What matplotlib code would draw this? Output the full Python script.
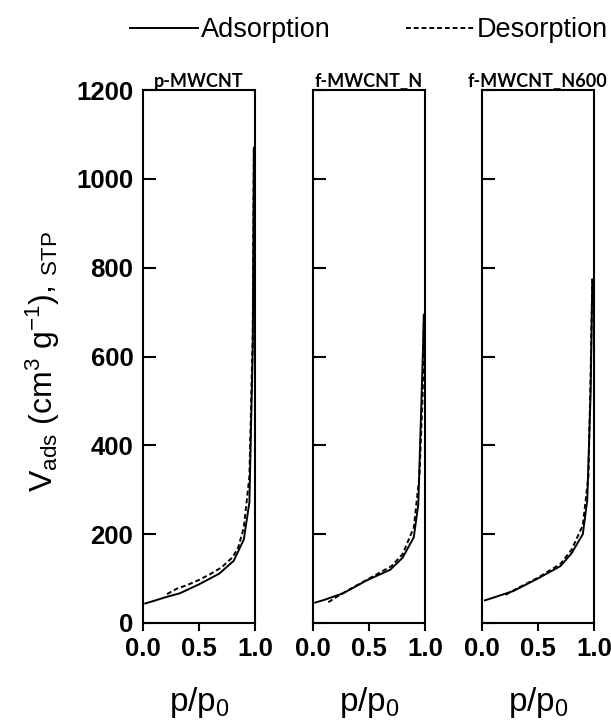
import numpy as np
import matplotlib
matplotlib.use('Agg')
import matplotlib.pyplot as plt
from matplotlib.lines import Line2D

plt.rcParams['font.family'] = ['Liberation Sans', 'DejaVu Sans']
plt.rcParams['mathtext.fontset'] = 'custom'
plt.rcParams['mathtext.rm'] = 'Liberation Sans'
plt.rcParams['mathtext.it'] = 'Liberation Sans'

# 样品名称
samples = ['p-MWCNT', 'f-MWCNT_N', 'f-MWCNT_N600']

# 吸附支 (p/p0, V)
ads_x = [
    [0.02, 0.1, 0.2, 0.33, 0.5, 0.68, 0.81, 0.9, 0.95, 0.98, 0.99],
    [0.02, 0.1, 0.27, 0.48, 0.69, 0.8, 0.9, 0.94, 0.98, 0.99],
    [0.027, 0.1, 0.28, 0.49, 0.7, 0.8, 0.9, 0.94, 0.97, 0.985],
]
ads_y = [
    [44, 50, 58, 67, 87, 111, 140, 188, 272, 620, 1070],
    [46, 52, 67, 96, 120, 147, 193, 267, 598, 694],
    [51, 57, 72, 99, 128, 157, 200, 277, 520, 773],
]
# 脱附支
des_x = [
    [0.99, 0.98, 0.95, 0.9, 0.85, 0.8, 0.7, 0.6, 0.5, 0.4, 0.3, 0.2],
    [0.99, 0.98, 0.95, 0.9, 0.8, 0.7, 0.5, 0.3, 0.2, 0.12],
    [0.985, 0.97, 0.95, 0.9, 0.8, 0.7, 0.5, 0.3, 0.2],
]
des_y = [
    [1068, 650, 330, 215, 170, 148, 125, 110, 97, 86, 77, 63],
    [695, 520, 330, 215, 155, 128, 100, 72, 57, 44],
    [775, 560, 330, 220, 165, 133, 102, 76, 62],
]

fig = plt.figure(figsize=(6.11, 7.26), dpi=100)
lefts = [143, 313, 482]
for i, name in enumerate(samples):
    ax = fig.add_axes([lefts[i] / 611, 103 / 726, 112 / 611, 533 / 726])
    ax.plot(ads_x[i], ads_y[i], color='black', lw=1.4, ls='-')
    ax.plot(des_x[i], des_y[i], color='black', lw=1.4, ls=(0, (2.5, 1.5)))
    ax.set_xlim(0, 1.0)
    ax.set_ylim(0, 1200)
    ax.set_xticks([0, 0.5, 1.0])
    ax.set_xticklabels(['0.0', '0.5', '1.0'], fontsize=18.5, fontweight='bold')
    ax.set_yticks(np.arange(0, 1201, 200))
    if i == 0:
        ax.set_yticklabels([str(v) for v in range(0, 1201, 200)], fontsize=18.5, fontweight='bold')
        ax.set_ylabel(r'V$_{\rm ads}$ (cm$^{3}$ g$^{-1}$), $_{\rm STP}$', fontsize=23)
        ax.yaxis.set_label_coords(-0.72, 0.49)
    else:
        ax.set_yticklabels([])
    ax.tick_params(axis='y', direction='in', length=9, width=1.5, pad=7)
    ax.tick_params(axis='x', direction='out', length=6, width=1.5, pad=4)
    for s in ax.spines.values():
        s.set_linewidth(1.5)
    ax.set_xlabel(r'p/p$_{\rm 0}$', fontsize=24, labelpad=17)
    ax.set_title(name, fontsize=13, fontweight='bold', family=['Lato', 'DejaVu Sans'], pad=2)

handles = [Line2D([], [], color='black', lw=1.4, ls='-'),
           Line2D([], [], color='black', lw=1.4, ls=(0, (2.5, 1.5)))]
fig.legend(handles, ['Adsorption', 'Desorption'], loc='center', bbox_to_anchor=(0.604, 0.958),
           ncol=2, frameon=False, fontsize=19.5, handlelength=2.5, handletextpad=0.1,
           columnspacing=2.8, borderpad=0, borderaxespad=0)

fig.savefig('out.png', dpi=100)
